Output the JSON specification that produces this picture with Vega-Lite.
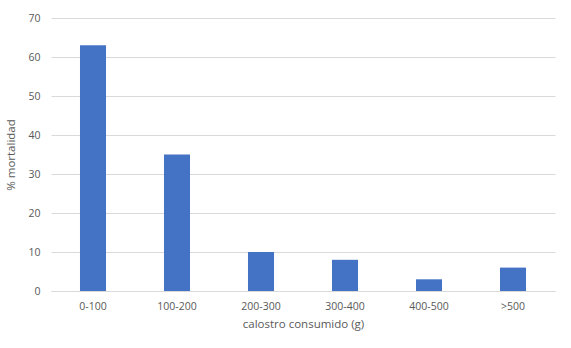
{
  "$schema": "https://vega.github.io/schema/vega-lite/v6.json",
  "autosize": "none",
  "width": 504,
  "height": 273,
  "padding": {"left": 51, "top": 18, "right": 16, "bottom": 57},
  "background": "white",
  "config": {
    "view": {"stroke": null},
    "font": "Open Sans",
    "axis": {"labelFont": "Open Sans", "titleFont": "Open Sans", "labelColor": "#595959", "titleColor": "#595959", "labelFontSize": 10.5, "titleFontSize": 11.5, "titleFontWeight": "normal"}
  },
  "data": {
    "values": [
      {"cat": "0-100", "v": 63},
      {"cat": "100-200", "v": 35},
      {"cat": "200-300", "v": 10},
      {"cat": "300-400", "v": 8},
      {"cat": "400-500", "v": 3},
      {"cat": ">500", "v": 6}
    ]
  },
  "mark": {"type": "bar", "color": "#4472c4"},
  "encoding": {
    "x": {
      "field": "cat", "type": "nominal", "sort": null,
      "scale": {"paddingInner": 0.69, "paddingOuter": 0.345},
      "axis": {"title": "calostro consumido (g)", "labelAngle": 0, "ticks": false, "domain": true, "domainColor": "#d9d9d9", "labelPadding": 10, "titlePadding": 7}
    },
    "y": {
      "field": "v", "type": "quantitative",
      "scale": {"domain": [0, 70]},
      "axis": {"title": "% mortalidad", "values": [0,10,20,30,40,50,60,70], "ticks": false, "domain": false, "gridColor": "#d9d9d9", "labelPadding": 11, "titlePadding": 11}
    }
  }
}
